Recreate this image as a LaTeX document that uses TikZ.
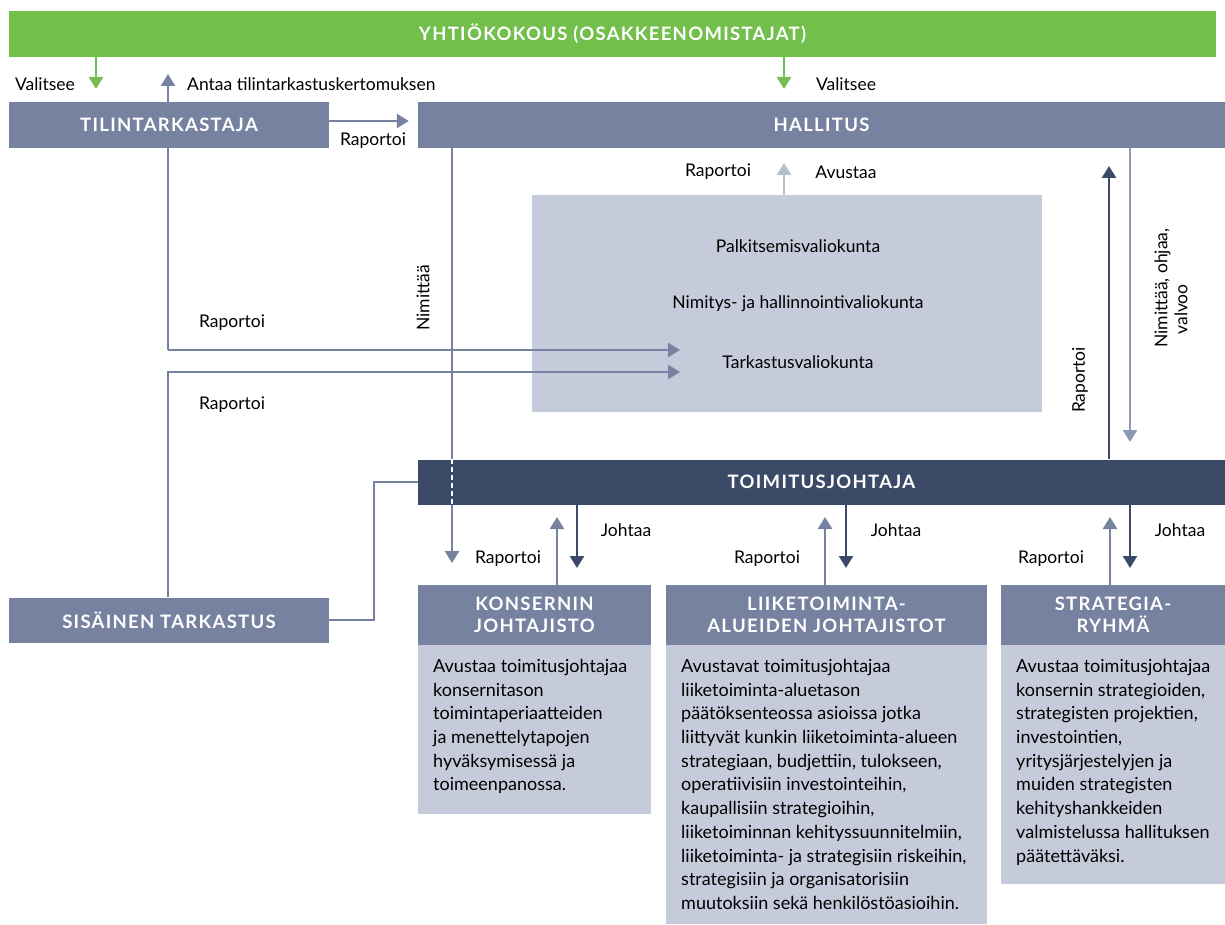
\documentclass[tikz,border=0pt]{standalone}
\usepackage{fontspec}
\setmainfont{Lato}
\newfontfamily\hdfont[LetterSpace=7]{Lato}
\usetikzlibrary{arrows.meta}
\pgfdeclarelayer{bg}
\pgfsetlayers{bg,main}
\definecolor{cgreen}{HTML}{72BF4B}
\definecolor{cslate}{HTML}{7782A0}
\definecolor{cdark}{HTML}{3B4A67}
\definecolor{clight}{HTML}{C5CBDA}
\definecolor{carrowlt}{HTML}{B6BED2}
\definecolor{cmid}{HTML}{8D98B2}
\begin{document}
\begin{tikzpicture}[x=1pt,y=-1pt,
  hd/.style={fill=cslate, text=white, font=\hdfont\bfseries\fontsize{18.5}{22}\selectfont, inner sep=0pt, align=center},
  lbl/.style={font=\fontsize{17.5}{20}\selectfont, inner sep=0pt, text=black},
  bodybox/.style={fill=clight, inner sep=0pt},
  bodytxt/.style={font=\fontsize{18}{23.7}\selectfont, align=left, anchor=north west, inner sep=0pt},
  con/.style={line width=2.6pt, draw=cslate, -{Triangle[width=14pt,length=12pt]}},
  plain/.style={line width=2.4pt, draw=cslate}
]
\useasboundingbox (0,0) rectangle (1225,925);

% boxes
\node[fill=cgreen, minimum width=1207pt, minimum height=46pt, inner sep=0pt, text=white,
      font=\hdfont\bfseries\fontsize{18.5}{20}\selectfont] (yk) at (612.5,34) {YHTIÖKOKOUS (OSAKKEENOMISTAJAT)};
\node[hd, minimum width=320pt, minimum height=46pt] (tt) at (169,125) {TILINTARKASTAJA};
\node[hd, minimum width=807pt, minimum height=46pt] (hal) at (821.5,125) {HALLITUS};
\node[fill=clight, minimum width=510pt, minimum height=217pt, inner sep=0pt] (com) at (787,303.5) {};
\node[hd, fill=cdark, minimum width=807pt, minimum height=45pt] (tj) at (821.5,482) {TOIMITUSJOHTAJA};
\node[hd, minimum width=320pt, minimum height=45pt] (st) at (169,620) {SISÄINEN TARKASTUS};
\node[hd, minimum width=233pt, minimum height=60pt] (kh) at (534.5,615) {KONSERNIN\\JOHTAJISTO};
\node[hd, minimum width=321pt, minimum height=60pt] (lh) at (826.5,615) {LIIKETOIMINTA-\\ALUEIDEN JOHTAJISTOT};
\node[hd, minimum width=224pt, minimum height=60pt] (sh) at (1113,615) {STRATEGIA-\\RYHMÄ};
\node[bodybox, minimum width=233pt, minimum height=169pt, anchor=north] (kb) at (kh.south) {};
\node[bodybox, minimum width=321pt, minimum height=279pt, anchor=north] (lb) at (lh.south) {};
\node[bodybox, minimum width=224pt, minimum height=239pt, anchor=north] (sb) at (sh.south) {};

% body texts
\node[bodytxt] (kt) at (433,659) {Avustaa toimitusjohtajaa\\konsernitason\\toimintaperiaatteiden\\ja menettelytapojen\\hyväksymisessä ja\\toimeenpanossa.};
\node[bodytxt] (lt) at (681,659) {Avustavat toimitusjohtajaa\\liiketoiminta-aluetason\\päätöksenteossa asioissa jotka\\liittyvät kunkin liiketoiminta-alueen\\strategiaan, budjettiin, tulokseen,\\operatiivisiin investointeihin,\\kaupallisiin strategioihin,\\liiketoiminnan kehityssuunnitelmiin,\\liiketoiminta- ja strategisiin riskeihin,\\strategisiin ja organisatorisiin\\muutoksiin sekä henkilöstöasioihin.};
\node[bodytxt] (stx) at (1016,659) {Avustaa toimitusjohtajaa\\konsernin strategioiden,\\strategisten projektien,\\investointien,\\yritysjärjestelyjen ja\\muiden strategisten\\kehityshankkeiden\\valmistelussa hallituksen\\päätettäväksi.};

% committee texts
\node[lbl] (c1t) at (798,246) {Palkitsemisvaliokunta};
\node[lbl] (c2t) at (798,304) {Nimitys- ja hallinnointivaliokunta};
\node[lbl] (c3t) at (798,362) {Tarkastusvaliokunta};

% free ends
\coordinate (g1) at (96,89);
\coordinate (g2) at (784,89);
\coordinate (a1) at (168,74);
\coordinate (c1) at (168,350);
\coordinate (a2) at (680,350);
\coordinate (c2) at (168,372);
\coordinate (a3) at (680,372);
\coordinate (n1) at (452,563);
\coordinate (r1) at (784,163);
\coordinate (r2) at (1109,166);
\coordinate (r3) at (1130,442);
\coordinate (j1) at (374,620);
\coordinate (k1) at (557,517);
\coordinate (k2) at (577,568);
\coordinate (m1) at (825,517);
\coordinate (m2) at (846,568);
\coordinate (s1) at (1110,517);
\coordinate (s2) at (1130,568);

\begin{pgfonlayer}{bg}
  \draw[con] (c1) -- (a1);
  \draw[con] (hal.south -| n1) -- (n1);
\end{pgfonlayer}

% connectors
\draw[con, draw=cgreen] (yk.south -| g1) -- (g1);
\draw[con, draw=cgreen] (yk.south -| g2) -- (g2);
\draw[con] (tt.east |- 0,121) -- ([xshift=-9pt]hal.west |- 0,121);
\draw[con] (c1) -- (a2);
\draw[con] (st.north -| c2) |- (a3);
\draw[white, line width=2.6pt, dash pattern=on 5pt off 3pt] (tj.north -| n1) -- (tj.south -| n1);
\draw[con, draw=carrowlt] (com.north -| r1) -- (r1);
\draw[con, draw=cdark] (tj.north -| r2) -- (r2);
\draw[con, draw=cmid] (hal.south -| r3) -- (r3);
\draw[plain] (st.east) -- (j1) |- (tj.west);
\draw[con] (kh.north -| k1) -- (k1);
\draw[con, draw=cdark] (tj.south -| k2) -- (k2);
\draw[con] (lh.north -| m1) -- (m1);
\draw[con, draw=cdark] (tj.south -| m2) -- (m2);
\draw[con] (sh.north -| s1) -- (s1);
\draw[con, draw=cdark] (tj.south -| s2) -- (s2);

% labels
\node[lbl] (l1) at (45,84) {Valitsee};
\node[lbl, anchor=west] (l2) at (187,84) {Antaa tilintarkastuskertomuksen};
\node[lbl] (l3) at (846,84) {Valitsee};
\node[lbl] (l4) at (373,141) {Raportoi};
\node[lbl] (l5) at (718,172) {Raportoi};
\node[lbl] (l6) at (846,172) {Avustaa};
\node[lbl] (l7) at (232,323) {Raportoi};
\node[lbl] (l8) at (232,405) {Raportoi};
\node[lbl, rotate=90] (l9) at (423,298) {Nimittää};
\node[lbl, rotate=90] (l10) at (1080,380) {Raportoi};
\node[lbl, rotate=90, align=left] (l11) at (1171,288) {Nimittää, ohjaa,\\\hspace*{13pt}valvoo};
\node[lbl] (l12) at (508,559) {Raportoi};
\node[lbl] (l13) at (626,530) {Johtaa};
\node[lbl] (l14) at (767,559) {Raportoi};
\node[lbl] (l15) at (896,530) {Johtaa};
\node[lbl] (l16) at (1051,559) {Raportoi};
\node[lbl] (l17) at (1180,530) {Johtaa};
\end{tikzpicture}
\end{document}
